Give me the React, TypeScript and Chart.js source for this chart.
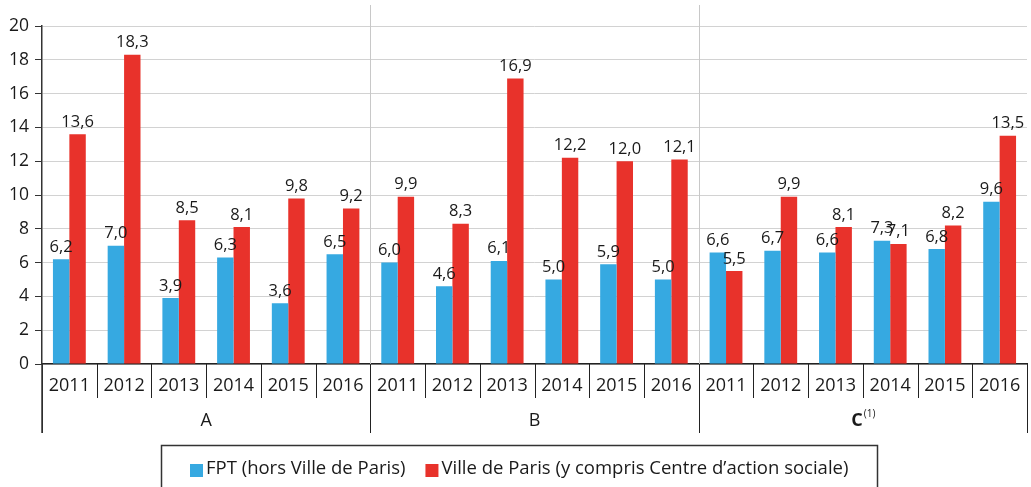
import React, { useEffect, useRef } from "react";
import { Chart, registerables } from "chart.js";

Chart.register(...registerables);

const groups = ["A", "B", "C"];
const groupNotes = ["", "", "(1)"];
const years = ["2011", "2012", "2013", "2014", "2015", "2016"];
const seriesNames = ["FPT (hors Ville de Paris)", "Ville de Paris (y compris Centre d\u2019action sociale)"];
const fptValues = [6.2, 7.0, 3.9, 6.3, 3.6, 6.5, 6.0, 4.6, 6.1, 5.0, 5.9, 5.0, 6.6, 6.7, 6.6, 7.3, 6.8, 9.6];
const villeValues = [13.6, 18.3, 8.5, 8.1, 9.8, 9.2, 9.9, 8.3, 16.9, 12.2, 12.0, 12.1, 5.5, 9.9, 8.1, 7.1, 8.2, 13.5];
const yTicks = [0, 2, 4, 6, 8, 10, 12, 14, 16, 18, 20];

const BLUE = "#36a9e1";
const RED = "#e8322b";
const FONT = "'Open Sans', 'DejaVu Sans', sans-serif";

const fmt = (v: number) => v.toFixed(1).replace(".", ",");

const decorPlugin = {
  id: "decor",
  afterDraw(chart: any) {
    const { ctx, chartArea } = chart;
    const xs = chart.scales.x;
    const n = xs.getLabels().length;
    const half = (xs.getPixelForValue(1) - xs.getPixelForValue(0)) / 2;
    const bottom = chartArea.bottom;
    ctx.save();
    // category dividers below axis
    ctx.strokeStyle = "#222";
    ctx.lineWidth = 1;
    for (let i = 0; i <= n; i++) {
      const x = Math.round(i === n ? chartArea.right : xs.getPixelForValue(i) - half) + 0.5;
      const isGroup = i % years.length === 0;
      ctx.beginPath();
      ctx.moveTo(x, bottom);
      ctx.lineTo(x, bottom + (isGroup ? 69 : 34));
      ctx.stroke();
    }
    // group separators inside plot
    ctx.strokeStyle = "#c8c8c8";
    for (let g = 1; g < groups.length; g++) {
      const x = Math.round(xs.getPixelForValue(g * years.length) - half) + 0.5;
      ctx.beginPath();
      ctx.moveTo(x, 5);
      ctx.lineTo(x, bottom);
      ctx.stroke();
    }
    // y axis extension
    ctx.strokeStyle = "#333";
    ctx.lineWidth = 1.5;
    ctx.beginPath();
    ctx.moveTo(chartArea.left, bottom);
    ctx.lineTo(chartArea.left, bottom + 69);
    ctx.stroke();

    // data labels
    ctx.fillStyle = "#1a1a1a";
    ctx.font = `16.5px ${FONT}`;
    ctx.textAlign = "center";
    ctx.textBaseline = "bottom";
    chart.data.datasets.forEach((ds: any, di: number) => {
      const meta = chart.getDatasetMeta(di);
      meta.data.forEach((bar: any, i: number) => {
        ctx.fillText(fmt(ds.data[i]), bar.x, bar.y - 4);
      });
    });

    // group labels
    ctx.textBaseline = "middle";
    groups.forEach((g, gi) => {
      const x0 = xs.getPixelForValue(gi * years.length) - half;
      const x1 = xs.getPixelForValue((gi + 1) * years.length - 1) + half;
      const cx = (x0 + x1) / 2;
      const y = bottom + 57;
      if (groupNotes[gi]) {
        ctx.font = `bold 18px ${FONT}`;
        const w1 = ctx.measureText(g).width;
        ctx.font = `10px ${FONT}`;
        const w2 = ctx.measureText(groupNotes[gi]).width;
        const start = cx - (w1 + w2) / 2;
        ctx.textAlign = "left";
        ctx.font = `bold 18px ${FONT}`;
        ctx.fillText(g, start, y);
        ctx.font = `10px ${FONT}`;
        ctx.fillText(groupNotes[gi], start + w1 + 1, y - 7);
        ctx.textAlign = "center";
      } else {
        ctx.font = `18px ${FONT}`;
        ctx.fillText(g, cx, y);
      }
    });

    // legend
    const colors = [BLUE, RED];
    ctx.font = `18.5px ${FONT}`;
    const sq = 13;
    const gapSq = 3;
    const gapItem = 20;
    const widths = seriesNames.map((s) => ctx.measureText(s).width);
    const total = widths.reduce((a, b) => a + b, 0) + seriesNames.length * (sq + gapSq) + gapItem;
    const padX = 29;
    const boxW = total + padX * 2;
    const boxL = 161;
    const boxT = 445.5;
    ctx.strokeStyle = "#333";
    ctx.lineWidth = 1.5;
    ctx.strokeRect(Math.round(boxL) + 0.5, boxT, Math.round(boxW), 60);
    let x = boxL + padX;
    const ly = 469;
    ctx.textAlign = "left";
    ctx.textBaseline = "middle";
    seriesNames.forEach((s, i) => {
      ctx.fillStyle = colors[i];
      ctx.fillRect(x, ly - 5, sq, sq);
      x += sq + gapSq;
      ctx.fillStyle = "#1a1a1a";
      ctx.fillText(s, x, ly);
      x += widths[i] + gapItem;
    });
    ctx.restore();
  },
};

export default function App() {
  const ref = useRef<HTMLCanvasElement | null>(null);
  useEffect(() => {
    document.body.style.margin = "0";
    const labels: string[] = [];
    groups.forEach(() => years.forEach((y) => labels.push(y)));
    const chart = new Chart(ref.current as HTMLCanvasElement, {
      type: "bar",
      data: {
        labels,
        datasets: [
          { label: seriesNames[0], data: fptValues, backgroundColor: BLUE, categoryPercentage: 0.6, barPercentage: 1 },
          { label: seriesNames[1], data: villeValues, backgroundColor: RED, categoryPercentage: 0.6, barPercentage: 1 },
        ],
      },
      options: {
        animation: false,
        responsive: false,
        layout: { padding: { top: 26, right: 4, left: 0, bottom: 0 } },
        plugins: { legend: { display: false }, tooltip: { enabled: false } },
        scales: {
          x: {
            grid: { display: false },
            border: { display: true, color: "#222", width: 1.5 },
            ticks: { color: "#1a1a1a", font: { size: 18, family: FONT }, padding: 3, maxRotation: 0, autoSkip: false },
            afterFit(scale: any) {
              scale.height = 123;
            },
          },
          y: {
            min: 0,
            max: 20,
            afterBuildTicks(scale: any) {
              scale.ticks = yTicks.map((v) => ({ value: v }));
            },
            grid: { color: "#d2d2d2", tickColor: "#333", tickLength: 7, lineWidth: 1 },
            border: { display: true, color: "#333", width: 1.5 },
            ticks: { color: "#1a1a1a", font: { size: 17.5, family: FONT }, padding: 6 },
            afterFit(scale: any) {
              scale.width = 42;
            },
          },
        },
      },
      plugins: [decorPlugin],
    } as any);
    return () => chart.destroy();
  }, []);
  return <canvas ref={ref} width={1031} height={487} style={{ display: "block" }} />;
}
